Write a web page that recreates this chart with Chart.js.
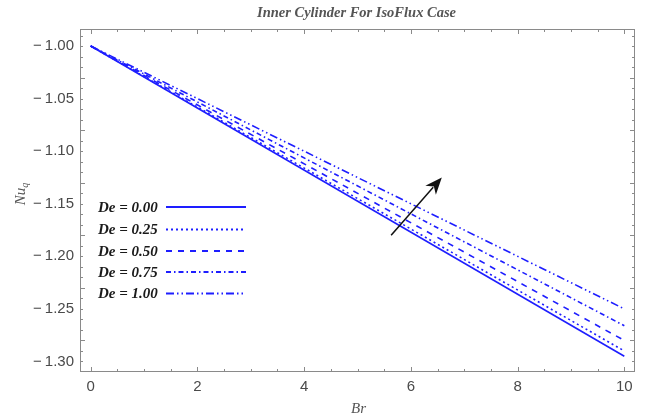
<!DOCTYPE html>
<html><head><meta charset="utf-8">
<script src="https://cdn.jsdelivr.net/npm/chart.js@4"></script>
<style>html,body{margin:0;padding:0;background:#fff}#c{display:block}</style></head>
<body><canvas id="c" width="645" height="420"></canvas>
<script>
// ---- data ----
const brValues = [0, 10];
const deLabels = ['De = 0.00', 'De = 0.25', 'De = 0.50', 'De = 0.75', 'De = 1.00'];
const nuDe000 = [-1.000, -1.295];
const nuDe025 = [-1.000, -1.290];
const nuDe050 = [-1.000, -1.280];
const nuDe075 = [-1.000, -1.266];
const nuDe100 = [-1.000, -1.250];
const xTickValues = [0, 2, 4, 6, 8, 10];
const yTickValues = [-1.00, -1.05, -1.10, -1.15, -1.20, -1.25, -1.30];
const arrowFrom = [5.63, -1.180];
const arrowTo = [6.58, -1.125];
const titleText = 'Inner Cylinder For IsoFlux Case';
const xTitle = 'Br';

// ---- styles ----
const BLUE = '#1e1eff';
const dashes = [[], [2, 3], [6, 6], [5, 3, 1.5, 3], [8, 3, 1.5, 3, 1.5, 3]];
const series = [nuDe000, nuDe025, nuDe050, nuDe075, nuDe100];

const datasets = series.map((vals, i) => ({
  label: deLabels[i],
  data: brValues.map((b, j) => ({x: b, y: vals[j]})),
  borderColor: BLUE,
  borderWidth: 1.6,
  borderDash: dashes[i],
  pointRadius: 0,
  fill: false,
  tension: 0
}));

const frameGray = '#8a8a8a';
const labelGray = '#4a4a4a';

const decor = {
  id: 'decor',
  afterDatasetsDraw(chart) {
    const ctx = chart.ctx, a = chart.chartArea;
    const xs = chart.scales.x, ys = chart.scales.y;
    ctx.save();
    // frame
    ctx.strokeStyle = frameGray; ctx.lineWidth = 1;
    ctx.strokeRect(Math.round(a.left) + 0.5, Math.round(a.top) + 0.5,
      Math.round(a.right - a.left) - 1, Math.round(a.bottom - a.top) - 1);
    // x ticks (major every 2, minor every 0.5) bottom & top
    ctx.beginPath();
    for (let k = 0; k <= 40; k++) {
      const v = k * 0.5;
      if (v > 10.2) break;
      const px = Math.round(xs.getPixelForValue(v)) + 0.5;
      const len = (k % 4 === 0) ? 5 : 3;
      ctx.moveTo(px, a.bottom); ctx.lineTo(px, a.bottom - len);
      ctx.moveTo(px, a.top); ctx.lineTo(px, a.top + len);
    }
    // y ticks (major every 0.05, minor every 0.01) left & right
    for (let k = 0; k <= 31; k++) {
      const v = -0.99 - k * 0.01;
      const py = Math.round(ys.getPixelForValue(v)) + 0.5;
      if (py < a.top || py > a.bottom) continue;
      const len = ((k + 1) % 5 === 0) ? 5 : 3;
      ctx.moveTo(a.left, py); ctx.lineTo(a.left + len, py);
      ctx.moveTo(a.right, py); ctx.lineTo(a.right - len, py);
    }
    ctx.stroke();
    // arrow
    const x1 = xs.getPixelForValue(arrowFrom[0]), y1 = ys.getPixelForValue(arrowFrom[1]);
    const x2 = xs.getPixelForValue(arrowTo[0]), y2 = ys.getPixelForValue(arrowTo[1]);
    const ang = Math.atan2(y2 - y1, x2 - x1);
    const hl = 17, hw = 7;
    const bx = x2 - hl * Math.cos(ang), by = y2 - hl * Math.sin(ang);
    ctx.strokeStyle = '#111'; ctx.fillStyle = '#111'; ctx.lineWidth = 1.5;
    ctx.beginPath(); ctx.moveTo(x1, y1); ctx.lineTo(bx + 4 * Math.cos(ang), by + 4 * Math.sin(ang)); ctx.stroke();
    ctx.beginPath();
    ctx.moveTo(x2, y2);
    ctx.lineTo(bx + hw * Math.sin(ang), by - hw * Math.cos(ang));
    ctx.lineTo(bx + 5 * Math.cos(ang), by + 5 * Math.sin(ang));
    ctx.lineTo(bx - hw * Math.sin(ang), by + hw * Math.cos(ang));
    ctx.closePath(); ctx.fill();
    // legend
    const rows = [207, 229.5, 251, 272, 293.5];
    ctx.font = 'bold italic 15px "Liberation Serif", "Times New Roman", serif';
    ctx.textBaseline = 'middle'; ctx.textAlign = 'left';
    rows.forEach((ry, i) => {
      ctx.fillStyle = '#1a1a1a';
      ctx.fillText(deLabels[i], 98, ry + 1);
      ctx.strokeStyle = BLUE; ctx.lineWidth = 2;
      ctx.setLineDash(dashes[i]);
      ctx.beginPath(); ctx.moveTo(166, ry); ctx.lineTo(246, ry); ctx.stroke();
    });
    ctx.setLineDash([]);
    ctx.restore();
  },
  afterDraw(chart) {
    const ctx = chart.ctx, a = chart.chartArea;
    ctx.save();
    const cx = (a.left + a.right) / 2;
    ctx.fillStyle = '#555';
    ctx.textAlign = 'center'; ctx.textBaseline = 'middle';
    ctx.font = 'bold italic 14.5px "Liberation Serif", "Times New Roman", serif';
    ctx.fillText(titleText, cx - 1, 13);
    ctx.font = 'italic 15px "Liberation Serif", "Times New Roman", serif';
    ctx.fillText(xTitle, cx + 1, 409);
    // y title Nu_q rotated
    ctx.translate(21, 194);
    ctx.rotate(-Math.PI / 2);
    ctx.textAlign = 'left';
    ctx.font = 'italic 15px "Liberation Serif", "Times New Roman", serif';
    const w1 = ctx.measureText('Nu').width;
    ctx.font = 'italic 10px "Liberation Serif", "Times New Roman", serif';
    const w2 = ctx.measureText('q').width;
    const start = -(w1 + w2) / 2;
    ctx.font = 'italic 15px "Liberation Serif", "Times New Roman", serif';
    ctx.fillText('Nu', start, 0);
    ctx.font = 'italic 10px "Liberation Serif", "Times New Roman", serif';
    ctx.fillText('q', start + w1, 4);
    ctx.restore();
  }
};

new Chart(document.getElementById('c'), {
  type: 'line',
  data: {datasets},
  options: {
    responsive: false,
    animation: false,
    events: [],
    layout: {padding: {top: 29, right: 10, left: 0, bottom: 0}},
    plugins: {legend: {display: false}, title: {display: false}, tooltip: {enabled: false}},
    scales: {
      x: {
        type: 'linear', min: -0.2, max: 10.2,
        afterBuildTicks: s => { s.ticks = xTickValues.map(v => ({value: v})); },
        afterFit: s => { s.height = 48; },
        grid: {display: false, drawTicks: false},
        border: {display: false},
        ticks: {padding: 6, color: labelGray, font: {family: '"Liberation Sans", Arial, sans-serif', size: 15},
          callback: v => String(v), maxRotation: 0, autoSkip: false}
      },
      y: {
        type: 'linear', min: -1.31, max: -0.9838,
        afterBuildTicks: s => { s.ticks = yTickValues.map(v => ({value: v})); },
        afterFit: s => { s.width = 80; },
        grid: {display: false, drawTicks: false},
        border: {display: false},
        ticks: {padding: 6, color: labelGray, font: {family: '"Liberation Sans", Arial, sans-serif', size: 15},
          callback: v => '\u2212\u2009' + Math.abs(v).toFixed(2), autoSkip: false}
      }
    }
  },
  plugins: [decor]
});
</script>
</body></html>
